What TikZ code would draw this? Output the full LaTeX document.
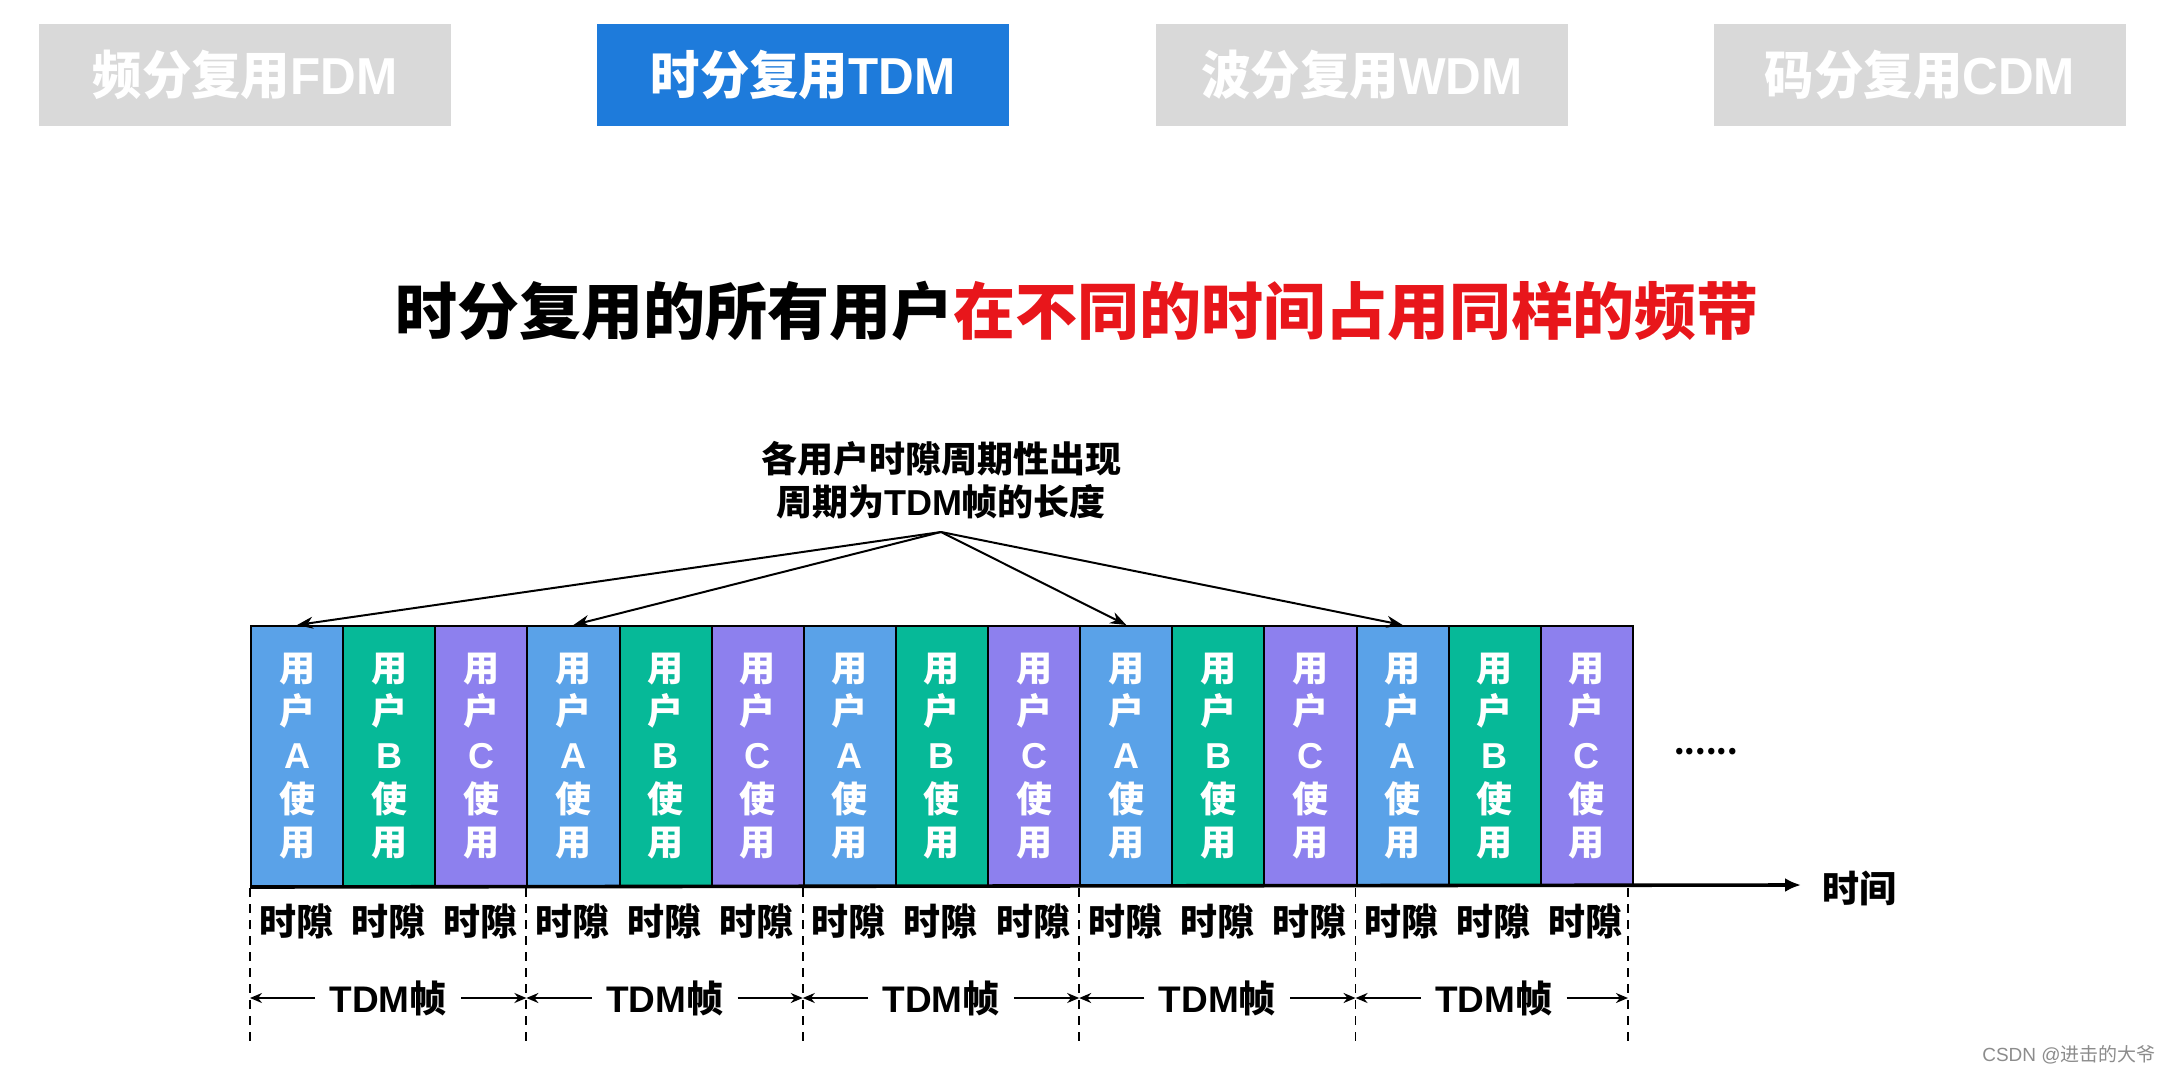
\documentclass[tikz,border=0pt]{standalone}
\usepackage{fontspec}
\usepackage{graphicx}
\setmainfont{Noto Sans CJK SC}
\newfontfamily\lat{Liberation Sans}
\usetikzlibrary{arrows.meta,calc}
\definecolor{tabgray}{HTML}{D9D9D9}
\definecolor{tabblue}{HTML}{1E7BDB}
\definecolor{tred}{HTML}{E8161B}
\definecolor{ua}{HTML}{5AA2E8}
\definecolor{ub}{HTML}{06B998}
\definecolor{uc}{HTML}{8D80EE}
\newcommand{\tabtxt}[2]{\scalebox{0.95}[1]{#1{\lat\bfseries #2}}}
\begin{document}
\begin{tikzpicture}[x=0.5pt,y=-0.5pt,
  tab/.style={minimum width=206pt,minimum height=51pt,inner sep=0pt,text=white,
    font=\fontsize{26}{30}\selectfont\bfseries},
  slotbox/.style={draw=black,line width=1pt,minimum width=46.07pt,minimum height=130pt,
    inner sep=0pt,anchor=north west,text=white,align=center,
    font=\fontsize{18}{21.85}\selectfont\bfseries},
  lbl/.style={font=\fontsize{18.5}{22}\selectfont\bfseries,inner sep=0pt},
  ptr/.style={line width=1pt,-{Stealth[length=8pt,width=6pt]}},
  frm/.style={line width=0.9pt,-{Stealth[length=6pt,width=5pt]}},
  sep/.style={line width=0.9pt,dash pattern=on 4.5pt off 3.5pt}]
\useasboundingbox (0,0) rectangle (2176,1076);
% tabs
\node[tab,fill=tabgray] (t1) at (245,75) {\tabtxt{频分复用}{FDM}};
\node[tab,fill=tabblue] (t2) at (803,75) {\tabtxt{时分复用}{TDM}};
\node[tab,fill=tabgray] (t3) at (1362,75) {\tabtxt{波分复用}{WDM}};
\node[tab,fill=tabgray] (t4) at (1920,75) {\tabtxt{码分复用}{CDM}};
% title
\node[font=\fontsize{31}{36}\selectfont\bfseries,inner sep=0pt] (title) at (1077,311)
  {时分复用的所有用户\textcolor{tred}{在不同的时间占用同样的频带}};
% annotation
\node[align=center,font=\fontsize{18}{21.5}\selectfont\bfseries,inner sep=0pt] (ann) at (941,480)
  {各用户时隙周期性出现\\周期为{\lat\bfseries TDM}帧的长度};
\coordinate (org) at (941,532);
% slots
\foreach \i in {1,...,15}{
  \pgfmathtruncatemacro{\k}{mod(\i-1,3)}
  \ifcase\k
    \node[slotbox,fill=ua] (s\i) at ({250+(\i-1)*92.13},625) {用\\户\\{\lat\bfseries A}\\使\\用};
  \or
    \node[slotbox,fill=ub] (s\i) at ({250+(\i-1)*92.13},625) {用\\户\\{\lat\bfseries B}\\使\\用};
  \or
    \node[slotbox,fill=uc] (s\i) at ({250+(\i-1)*92.13},625) {用\\户\\{\lat\bfseries C}\\使\\用};
  \fi
  \node[lbl] (g\i) at ({250+(\i-0.5)*92.13},921) {时隙};
}
% pointer arrows
\draw[ptr] (org) -- (s1.north);
\draw[ptr] (org) -- (s4.north);
\draw[ptr] (org) -- (s10.north);
\draw[ptr] (org) -- (s13.north);
% time axis
\coordinate (tend) at (1801,885);
\draw[line width=1.8pt,-{Latex[length=8pt,width=7pt]}] (s1.south west) -- (tend);
\node[font=\fontsize{18.5}{22}\selectfont\bfseries,inner sep=0pt,anchor=west] (time) at (1822,888) {时间};
\node[font=\fontsize{15}{18}\selectfont\bfseries,inner sep=0pt] (dots) at (1706,752) {......};
% frame separators
\foreach \k in {0,...,5}{
  \coordinate (d\k) at ({250+3*\k*92.13-(\k==5?4:0)},1048);
  \draw[sep] ({250+3*\k*92.13-(\k==5?4:0)},888) -- (d\k);
}
% TDM frames
\foreach \k [evaluate=\k as \kk using int(\k-1)] in {1,...,5}{
  \node[lbl,inner xsep=7pt] (f\k) at ({250+(3*\k-1.5)*92.13},998) {{\lat\bfseries TDM}帧};
  \draw[frm] (f\k.west) -- (f\k.west -| d\kk);
  \draw[frm] (f\k.east) -- (f\k.east -| d\k);
}
% watermark
\node[font=\fontsize{9.5}{11}\selectfont,text=black!45,inner sep=0pt] (wm) at (2069,1055) {{\lat CSDN @}进击的大爷};
\end{tikzpicture}
\end{document}
